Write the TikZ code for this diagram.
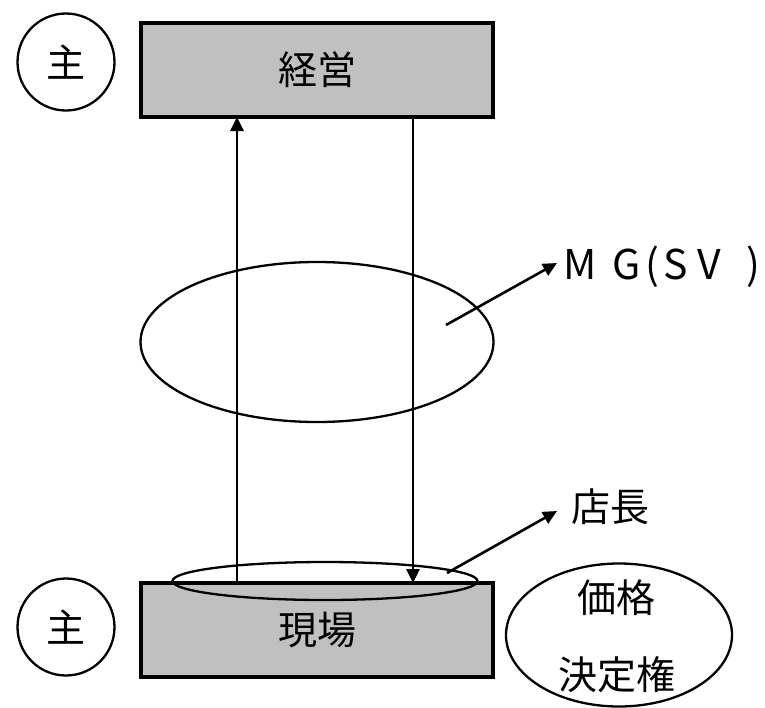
\documentclass[tikz,border=0pt]{standalone}
\usepackage{fontspec}
\setmainfont{Noto Sans CJK JP}
\usetikzlibrary{arrows.meta,shapes.geometric}
\definecolor{boxgray}{HTML}{C0C0C0}
\tikzset{
  mainbox/.style={draw=black, line width=3.5pt, fill=boxgray, minimum width=352pt, minimum height=94pt, inner sep=0pt, font=\fontsize{39}{40}\selectfont},
  shucircle/.style={circle, draw=black, line width=2.3pt, minimum size=97pt, inner sep=0pt, font=\fontsize{39}{40}\selectfont},
  oval/.style={ellipse, draw=black, line width=2.3pt, inner sep=0pt},
  arr/.style={line width=2.6pt, -{Triangle[length=14pt,width=13pt]}},
  lbl/.style={inner sep=0pt, font=\fontsize{39}{40}\selectfont},
}
\newcommand{\putch}[2]{\makebox[0pt][l]{\hspace*{#1}#2}}
\begin{document}
\begin{tikzpicture}[x=1pt,y=-1pt]
\useasboundingbox (0,0) rectangle (765,707);
\node[mainbox] (keiei) at (317,70) {経営};
\node[mainbox] (genba) at (317,630) {現場};
\node[shucircle] (shu1) at (66,62) {主};
\node[shucircle] (shu2) at (66,627) {主};
\node[oval, minimum width=353pt, minimum height=160pt] (mg) at (317,342) {};
\node[oval, minimum width=305pt, minimum height=38pt] (tencho) at (325,581) {};
\node[oval, minimum width=226pt, minimum height=143pt] (kakaku) at (619,635) {};
\node[lbl] (kakakut) at (616,598) {価格};
\node[lbl] (kettei) at (617,675) {決定権};
\coordinate (upS) at (237,583);
\coordinate (upE) at (237,117);
\coordinate (dnS) at (413,117);
\coordinate (dnE) at (413,583);
\draw[arr] (upS) -- (upE);
\draw[arr] (dnS) -- (dnE);
\coordinate (mgS) at (446,325);
\coordinate (mgE) at (557,263);
\draw[arr] (mgS) -- (mgE);
\node[lbl, font=\fontsize{41}{42}\selectfont, anchor=base west, text width=200pt] (mgt) at (563,279) {\putch{0pt}{M}\putch{49pt}{G}\putch{82pt}{(}\putch{100pt}{S}\putch{134pt}{V}\putch{183pt}{)}};
\coordinate (tcS) at (447,573);
\coordinate (tcE) at (557,511);
\draw[arr] (tcS) -- (tcE);
\node[lbl, anchor=west] (tct) at (571,507) {店長};
\end{tikzpicture}
\end{document}
